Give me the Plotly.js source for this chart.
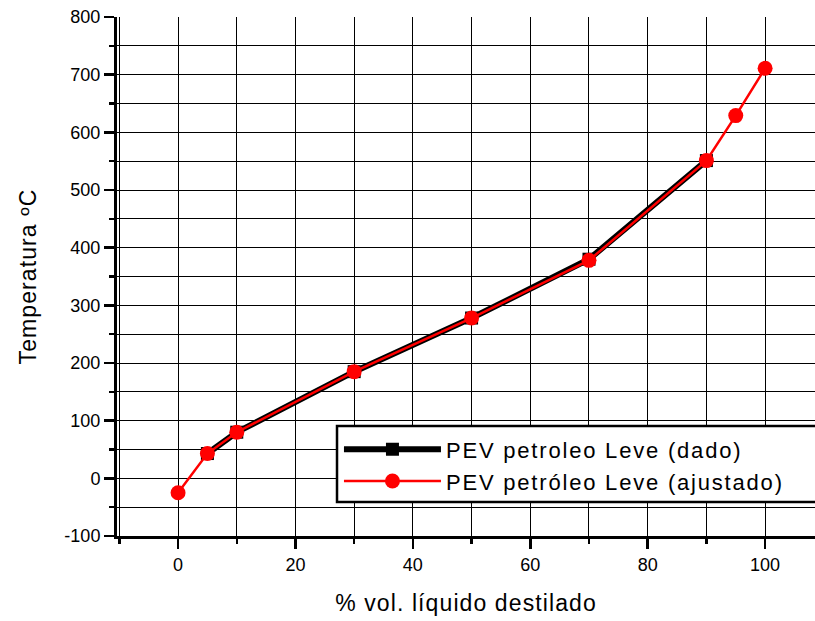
<!DOCTYPE html>
<html>
<head>
<meta charset="utf-8">
<script src="https://cdn.plot.ly/plotly-3.0.1.min.js"></script>
<style>
html,body{margin:0;padding:0;background:#fff;}
#chart{width:815px;height:621px;}
.legendtext{letter-spacing:1.8px;}
.xtitle,.ytitle{letter-spacing:1.1px;}
</style>
</head>
<body>
<div id="chart"></div>
<script>
// Series: measured data ("dado")
var xDado = [5, 10, 30, 50, 70, 90];
var yDado = [43, 80, 185, 278, 380, 551];
// Series: fitted data ("ajustado")
var xAjustado = [0, 5, 10, 30, 50, 70, 90, 95, 100];
var yAjustado = [-25, 43, 80, 185, 278, 378, 551, 629, 711];

// Tick labels
var xTickVals = [0, 20, 40, 60, 80, 100];
var xTickText = ["0", "20", "40", "60", "80", "100"];
var yTickVals = [-100, 0, 100, 200, 300, 400, 500, 600, 700, 800];
var yTickText = ["-100", "0", "100", "200", "300", "400", "500", "600", "700", "800"];

var nameDado = "PEV petroleo Leve (dado)";
var nameAjustado = "PEV petróleo Leve (ajustado)";
var xTitle = "% vol. líquido destilado";
var yTitle = "Temperatura ºC";

var font = "'Liberation Sans', Arial, Helvetica, sans-serif";

var traces = [
  {
    x: xDado, y: yDado, name: nameDado, type: "scatter", mode: "lines+markers",
    line: {color: "#000", width: 6},
    marker: {symbol: "square", size: 13, color: "#000"}
  },
  {
    x: xAjustado, y: yAjustado, name: nameAjustado, type: "scatter", mode: "lines+markers",
    line: {color: "#ff0000", width: 2.5},
    marker: {symbol: "circle", size: 15, color: "#ff0000"}
  }
];

var layout = {
  width: 815, height: 621,
  margin: {l: 117, r: 0, t: 17, b: 85, pad: 0},
  paper_bgcolor: "#fff", plot_bgcolor: "#fff",
  font: {family: font, color: "#000", size: 18},
  showlegend: true,
  legend: {
    x: 0.318, y: 0.207, xanchor: "left", yanchor: "top",
    bgcolor: "rgba(0,0,0,0)", borderwidth: 0,
    font: {family: font, size: 22, color: "#000"},
    itemwidth: 97
  },
  shapes: [
    {type: "rect", xref: "paper", yref: "paper", layer: "above",
     x0: 0.3152, x1: 1.05, y0: 0.0655, y1: 0.212,
     fillcolor: "#fff", line: {color: "#000", width: 2.5}}
  ],
  xaxis: {
    range: [-10.4, 108.5],
    tickmode: "array", tickvals: xTickVals, ticktext: xTickText,
    ticks: "outside", ticklen: 10, tickwidth: 2.5, tickcolor: "#000",
    showline: true, linecolor: "#000", linewidth: 3, mirror: false,
    showgrid: true, gridcolor: "#000", gridwidth: 1,
    zeroline: false,
    tickfont: {family: font, size: 18},
    minor: {dtick: 10, tick0: 0, ticks: "outside", ticklen: 5, tickwidth: 2.5, tickcolor: "#000", showgrid: true, gridcolor: "#000", gridwidth: 1},
    title: {text: xTitle, font: {family: font, size: 23}, standoff: 22}
  },
  yaxis: {
    range: [-100, 800],
    tickmode: "array", tickvals: yTickVals, ticktext: yTickText,
    ticks: "outside", ticklen: 10, tickwidth: 2.5, tickcolor: "#000",
    showline: true, linecolor: "#000", linewidth: 3, mirror: false,
    showgrid: true, gridcolor: "#000", gridwidth: 1,
    zeroline: false,
    tickfont: {family: font, size: 18},
    minor: {dtick: 50, tick0: 0, ticks: "outside", ticklen: 5, tickwidth: 2.5, tickcolor: "#000", showgrid: true, gridcolor: "#000", gridwidth: 1},
    title: {text: yTitle, font: {family: font, size: 23}, standoff: 22}
  }
};

Plotly.newPlot("chart", traces, layout, {displayModeBar: false, staticPlot: true});
</script>
</body>
</html>
